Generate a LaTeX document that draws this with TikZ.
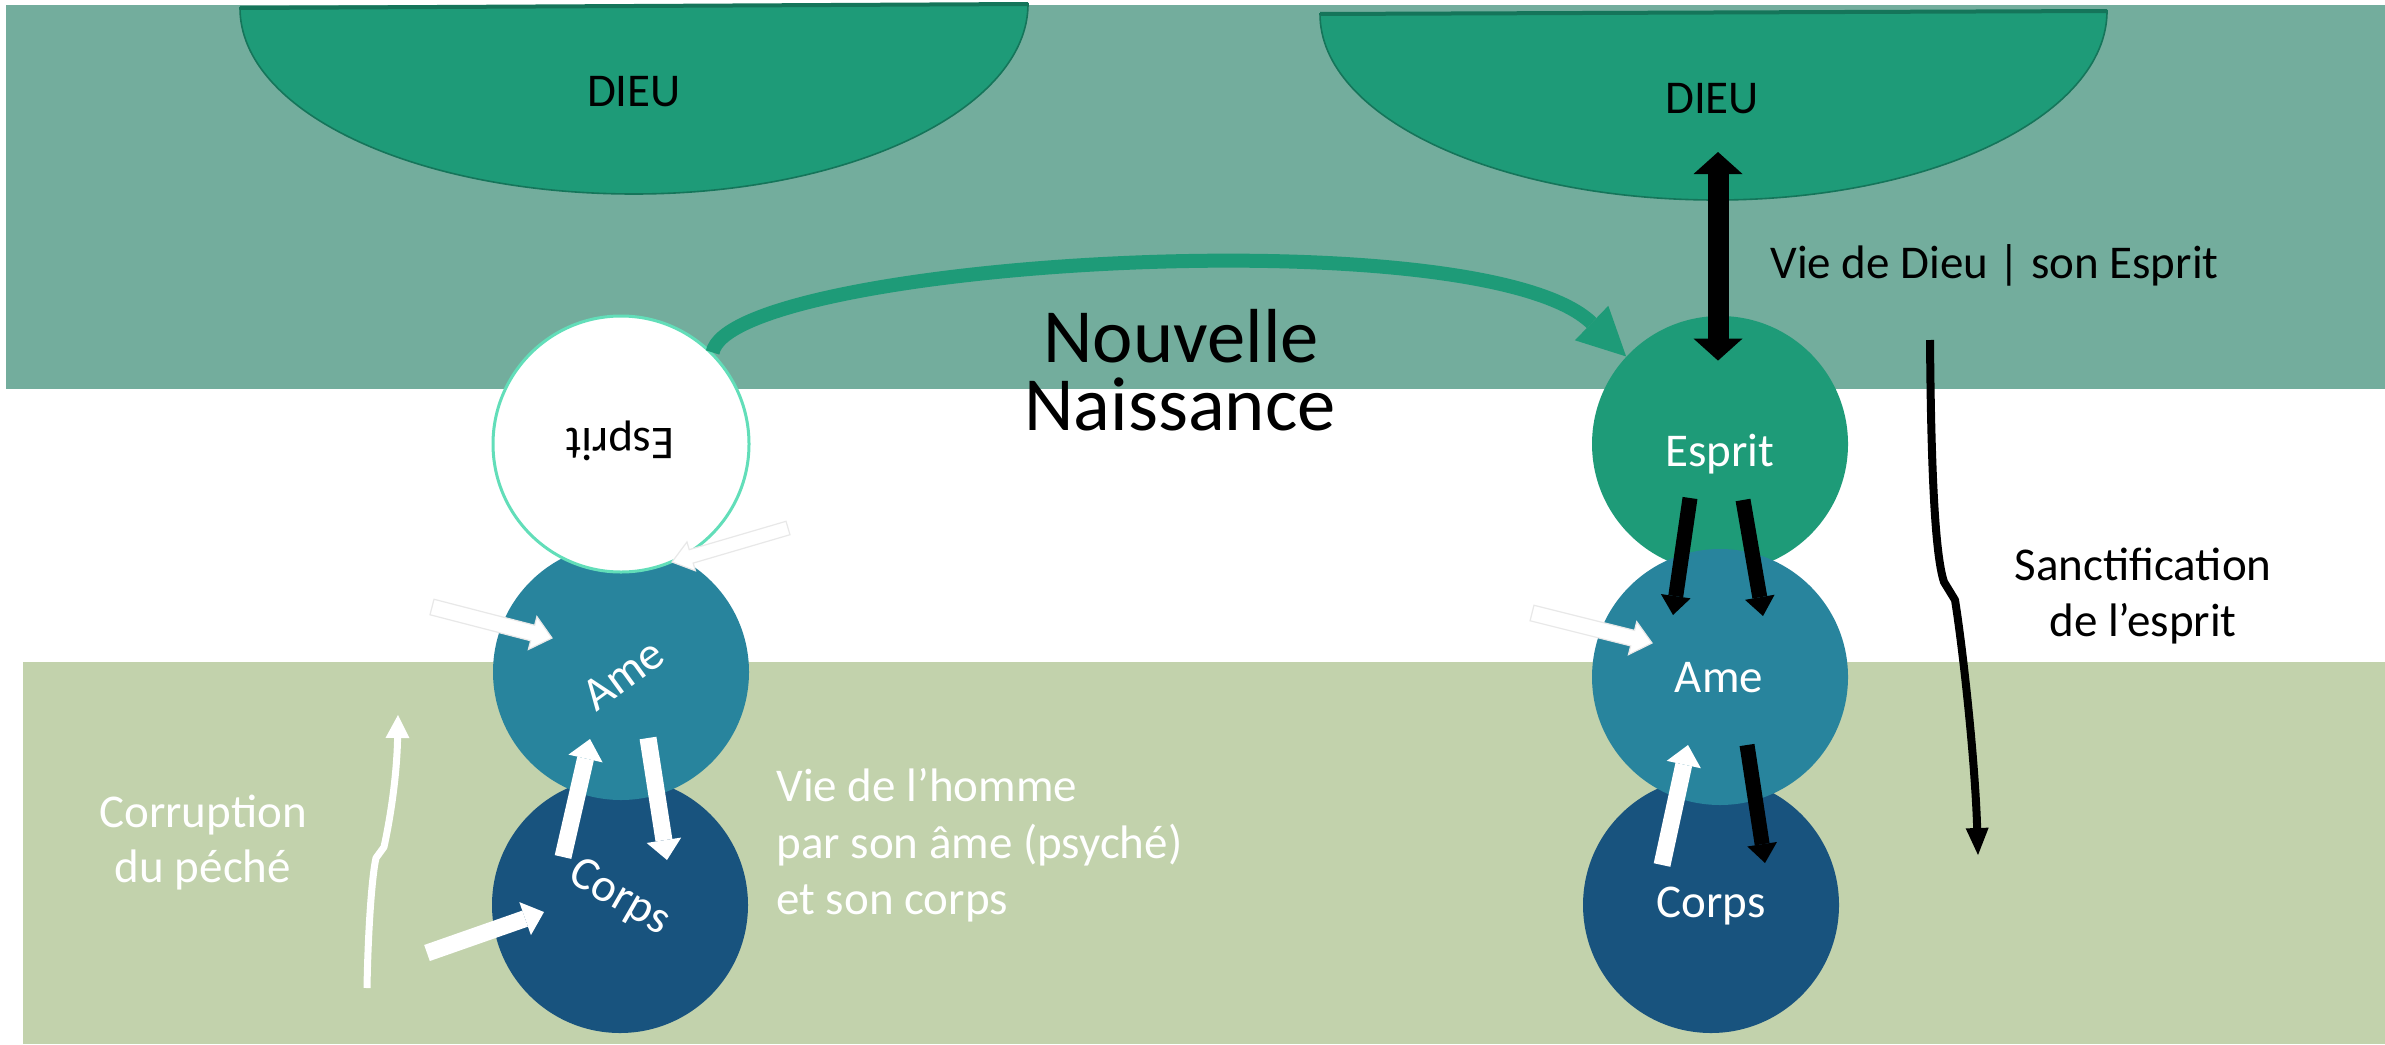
\documentclass[tikz,border=0pt]{standalone}
\usepackage{fontspec}
\setmainfont{Carlito}
\usetikzlibrary{arrows.meta,calc}
\definecolor{topband}{HTML}{73AD9D}
\definecolor{botband}{HTML}{C2D2AC}
\definecolor{dieu}{HTML}{1E9B78}
\definecolor{dieuline}{HTML}{15755A}
\definecolor{amecol}{HTML}{28849D}
\definecolor{corpscol}{HTML}{18537E}
\definecolor{aqua}{HTML}{62DEB9}
\newcommand\blockarrow[6]{%
  \coordinate (ba-h) at ($(#2)!#5!(#1)$);
  \filldraw[#6] ($(#1)!#3!90:(#2)$) -- ($(ba-h)!#3!-90:(#1)$) -- ($(ba-h)!#4!-90:(#1)$) -- (#2)
    -- ($(ba-h)!#4!90:(#1)$) -- ($(ba-h)!#3!90:(#1)$) -- ($(#1)!#3!-90:(#2)$) -- cycle;}
\begin{document}
\begin{tikzpicture}[x=0.5pt,y=-0.5pt,
  circ/.style={circle, minimum size=128pt, inner sep=0pt},
  lab/.style={font=\fontsize{23.5}{28}\selectfont, inner sep=0pt},
  wlab/.style={lab, text=white},
  bigfont/.style={font=\fontsize{38.3}{40}\selectfont, inner sep=0pt},
  blk/.style={black, line width=7.5pt, -{Triangle[width=15pt,length=9.5pt,line width=0pt]}},
  wht/.style={white, line width=8.5pt, -{Triangle[width=17.5pt,length=10pt,line width=0pt]}},
  faint/.style={fill=white, draw=black!9, line width=0.6pt},
  dieushape/.style={fill=dieu, draw=dieuline, line width=0.8pt}]
\useasboundingbox (0,0) rectangle (2385,1044);
\fill[white] (0,0) rectangle (2385,1044);
% bands
\fill[topband] (6,5) rectangle (2385,389);
\fill[botband] (23,662) rectangle (2385,1044);
% DIEU shapes
\filldraw[dieushape] (240,8) -- (1028,4) .. controls (1028,108) and (852,194) .. (634,194)
  .. controls (416,194) and (240,112) .. cycle;
\draw[dieuline, line width=2pt] (240,8) -- (1028,4);
\filldraw[dieushape] (1320,14) -- (2107,11) .. controls (2107,115) and (1933,200) .. (1716,200)
  .. controls (1499,200) and (1320,118) .. cycle;
\draw[dieuline, line width=2pt] (1320,14) -- (2107,11);
\node[lab] (ldieu) at (634,92) {DIEU};
\node[lab] (rdieu) at (1712,99) {DIEU};
% left circles
\node[circ, fill=corpscol] (lcorps) at (620,905) {};
\node[circ, fill=amecol] (lame) at (621,672) {};
\node[circ, fill=white, draw=aqua, line width=1.5pt] (lesp) at (621,444) {};
% right circles
\node[circ, fill=dieu] (resp) at (1720,444) {};
\node[circ, fill=corpscol] (rcorps) at (1711,905) {};
\node[circ, fill=amecol] (rame) at (1720,677) {};
% circle labels
\node[lab, rotate=180] (lesplab) at (620,441) {Esprit};
\node[wlab, rotate=36] (lamelab) at (623,675) {Ame};
\node[wlab, rotate=-30] (lcorpslab) at (619,898) {Corps};
\node[wlab, anchor=base] (resplab) at (1720,466) {Esprit};
\node[wlab, anchor=base] (ramelab) at (1719,692) {Ame};
\node[wlab, anchor=base] (rcorpslab) at (1711,917) {Corps};
% texts
\node[lab, anchor=base west] (viedieu) at (1770,278) {Vie de Dieu | son Esprit};
\node[lab, anchor=base] (sanct1) at (2143,580) {Sanctification};
\node[lab, anchor=base] (sanct2) at (2143,636) {de l’esprit};
\node[bigfont, anchor=base] (nn1) at (1181,362) {Nouvelle};
\node[bigfont, anchor=base] (nn2) at (1180,430) {Naissance};
\node[wlab, anchor=base west] (vh1) at (776,801) {Vie de l’homme};
\node[wlab, anchor=base west] (vh2) at (776,858) {par son âme (psyché)};
\node[wlab, anchor=base west] (vh3) at (776,914) {et son corps};
\node[wlab, anchor=base] (cor1) at (203,827) {Corruption};
\node[wlab, anchor=base] (cor2) at (203,882) {du péché};
% green curved arrow
\draw[dieu, line width=7pt, -{Triangle[width=24pt,length=24pt,line width=0pt]}]
  (lesp.45) .. controls (730,262) and (1480,215) .. (resp.137);
% double black arrow
\coordinate (vtop) at (1718,152);
\draw[black, line width=10.5pt,
  {Triangle[width=24.5pt,length=11pt,line width=0pt]}-{Triangle[width=24.5pt,length=11pt,line width=0pt]}]
  (vtop) -- ([xshift=-1pt,yshift=-22.5pt]resp.north);
% right black arrows
\draw[blk] ($(resp)+(-30,54)$) -- ($(rame)+(-47,-62)$);
\draw[blk] ($(resp)+(23,56)$) -- ($(rame)+(43,-61)$);
\draw[blk] ($(rame)+(27,68)$) -- ($(rcorps)+(54,-42)$);
% right white arrows
\draw[wht] ($(rcorps)+(-49,-40)$) -- ($(rame)+(-32,68)$);
\coordinate (rin) at (1532,613);
\coordinate (rinT) at ($(rame)+(-68,-34)$);
\blockarrow{rin}{rinT}{4pt}{8.5pt}{10pt}{faint}
% left white arrows
\draw[wht] ($(lcorps)+(-57,-48)$) -- ($(lame)+(-31,67)$);
\draw[wht] ($(lame)+(27,66)$) -- ($(lcorps)+(47,-45)$);
\coordinate (lcin) at (427,953);
\draw[wht] (lcin) -- ($(lcorps)+(-76,7)$);
\coordinate (lain) at (432,607);
\coordinate (lainT) at ($(lame)+(-69,-34)$);
\blockarrow{lain}{lainT}{4pt}{8.5pt}{10pt}{faint}
\coordinate (lein) at (788,528);
\coordinate (leinT) at ($(lesp)+(51,118)$);
\blockarrow{lein}{leinT}{3.5pt}{7.5pt}{10pt}{faint}
% sanctification arrow
\coordinate (stop) at (1930,340);
\coordinate (sbot) at (1978,855);
\draw[black, line width=4pt, line join=round, -{Triangle[width=11.5pt,length=13.5pt,line width=0pt]}]
  (stop) .. controls (1931,470) and (1935,555) .. (1944,582) -- (1955,600)
  .. controls (1963,650) and (1975,760) .. (sbot);
% corruption arrow
\coordinate (cbot) at (367,988);
\coordinate (ctop) at (398,715);
\draw[white, line width=3.5pt, line join=round, -{Triangle[width=12pt,length=11.5pt,line width=0pt]}]
  (cbot) .. controls (368,930) and (372,875) .. (376,858) -- (384,847)
  .. controls (392,810) and (397,770) .. (ctop);
\end{tikzpicture}
\end{document}
